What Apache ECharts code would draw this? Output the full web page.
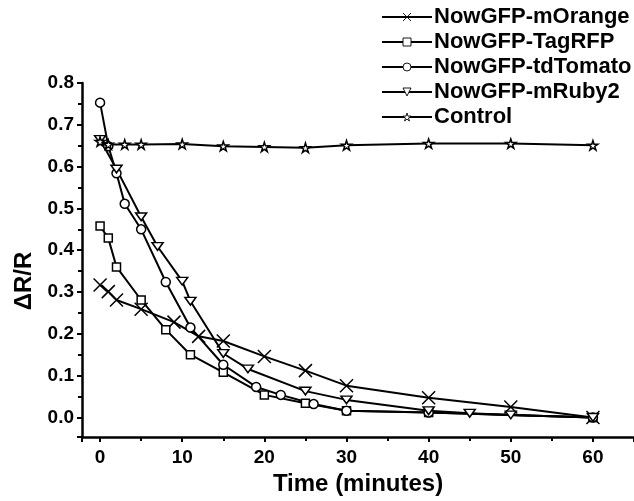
<!DOCTYPE html>
<html>
	<head>
		<meta charset="utf-8" />
		<title></title>
		<style>
			html, body { margin: 0; padding: 0; background: #fff; }
			#main { width: 634px; height: 501px; }
		</style>
	</head>
	<body>
		<div id="main"></div>
	</body>
	<script src="https://cdn.jsdelivr.net/npm/echarts@6/dist/echarts.min.js" type="text/javascript" charset="utf-8"></script>
	<script type="text/javascript">
		// values, [minutes, dR/R]
		var mOrange = [[0,0.317],[1,0.301],[2,0.281],[5,0.259],[9,0.228],[12,0.194],[15,0.183],[20,0.146],[25,0.112],[30,0.076],[40,0.047],[50,0.025],[60,0.0]];
		var tagRFP = [[0,0.458],[1,0.429],[2,0.36],[5,0.281],[8,0.21],[11,0.15],[15,0.108],[20,0.054],[25,0.034],[30,0.016],[40,0.012],[60,0.0]];
		var tdTomato = [[0,0.753],[1,0.649],[2,0.584],[3,0.511],[5,0.45],[8,0.324],[11,0.215],[15,0.126],[19,0.073],[22,0.054],[26,0.032],[30,0.016],[40,0.012],[60,0.0]];
		var mRuby2 = [[0,0.665],[2,0.594],[5,0.48],[7,0.409],[10,0.326],[11,0.278],[15,0.153],[18,0.116],[25,0.063],[30,0.042],[40,0.016],[45,0.01],[50,0.006],[60,0.0]];
		var control = [[0,0.66],[1,0.653],[3,0.653],[5,0.653],[10,0.654],[15,0.649],[20,0.647],[25,0.645],[30,0.651],[40,0.655],[50,0.655],[60,0.651]];

		var names = ["NowGFP-mOrange","NowGFP-TagRFP","NowGFP-tdTomato","NowGFP-mRuby2","Control"];

		var crossSym = "path://M0,0L10,10M10,0L0,10";
		var triSym = "path://M0,0L20,0L10,17Z";
		var starSym = "path://M50,0L61,35L98,35L68,57L79,91L50,70L21,91L32,57L2,35L39,35Z";

		var font = "'Liberation Sans', Arial, sans-serif";

		function mk(name, data, sym, size){
			return {
				name: name,
				type: 'line',
				data: data,
				symbol: sym,
				symbolSize: size,
				symbolKeepAspect: true,
				showAllSymbol: true,
				lineStyle: { color: '#000', width: 2 },
				itemStyle: { color: '#fff', borderColor: '#000', borderWidth: 1.5 },
				emphasis: { disabled: true },
				animation: false
			};
		}

		var myChart = echarts.init(document.getElementById('main'));
		var option = {
			backgroundColor: '#fff',
			animation: false,
			grid: { left: 82, right: -2, top: 83, bottom: 59, containLabel: false },
			legend: {
				orient: 'vertical',
				left: 376,
				top: 1,
				itemWidth: 50,
				itemHeight: 10,
				itemGap: 3,
				itemStyle: { color: '#fff', borderColor: '#000', borderWidth: 0.9 },
				lineStyle: { color: '#000', width: 2 },
				textStyle: { fontFamily: font, fontWeight: 'bold', fontSize: 22, color: '#000', padding: [0,0,0,-3] },
				data: names
			},
			xAxis: {
				type: 'value',
				min: -2.2,
				max: 65,
				name: 'Time (minutes)',
				nameLocation: 'middle',
				nameGap: 34,
				nameTextStyle: { fontFamily: font, fontWeight: 'bold', fontSize: 24, color: '#000' },
				splitLine: { show: false },
				axisLine: { onZero: false, lineStyle: { color: '#000', width: 2.5 } },
				axisTick: { inside: false, length: 5, lineStyle: { color: '#000', width: 2 } },
				minorTick: { show: true, splitNumber: 2, length: 4, lineStyle: { color: '#000', width: 2 } },
				axisLabel: { showMinLabel: false, showMaxLabel: false, margin: 11, fontFamily: font, fontWeight: 'bold', fontSize: 19, color: '#000' }
			},
			yAxis: {
				type: 'value',
				min: -0.047,
				max: 0.8,
				splitNumber: 8,
				name: 'ΔR/R',
				nameLocation: 'middle',
				nameGap: 40,
				nameTextStyle: { fontFamily: font, fontWeight: 'bold', fontSize: 24, color: '#000', padding: [0, 42, 0, 0] },
				splitLine: { show: false },
				axisLine: { onZero: false, lineStyle: { color: '#000', width: 2.5 } },
				axisTick: { inside: false, length: 5, lineStyle: { color: '#000', width: 2 } },
				minorTick: { show: true, splitNumber: 2, length: 4, lineStyle: { color: '#000', width: 2 } },
				axisLabel: {
					showMinLabel: false, margin: 8, fontFamily: font, fontWeight: 'bold', fontSize: 19, color: '#000',
					formatter: function(v){ return v.toFixed(1); }
				}
			},
			series: [
				mk(names[0], mOrange, crossSym, [13,13]),
				mk(names[1], tagRFP, 'rect', 8),
				mk(names[2], tdTomato, 'circle', 9),
				mk(names[3], mRuby2, triSym, [11,9]),
				mk(names[4], control, starSym, 10)
			]
		};
		myChart.setOption(option);
	</script>
</html>
